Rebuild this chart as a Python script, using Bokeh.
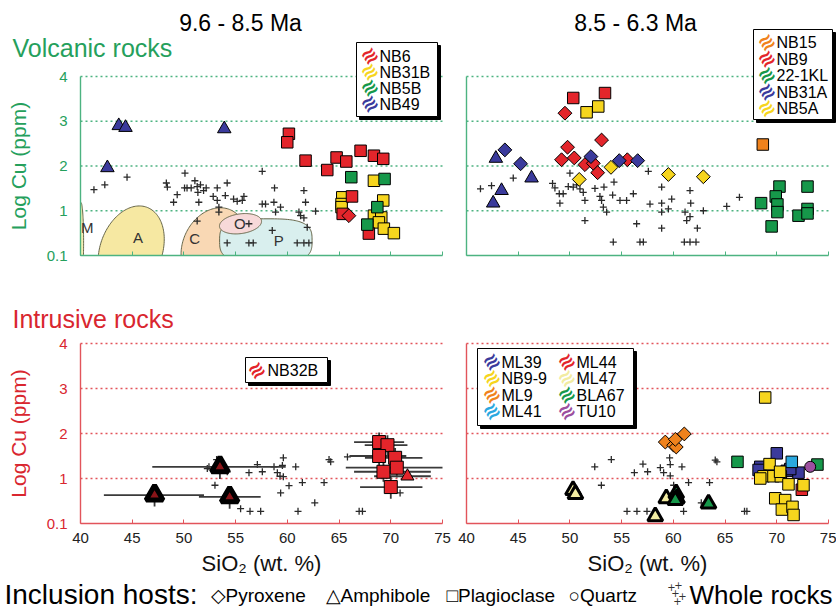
import numpy as np
from bokeh.plotting import figure
from bokeh.layouts import column, row
from bokeh.models import Range1d, FixedTicker, Label, BoxAnnotation, LinearAxis
from bokeh.core.properties import value
from bokeh.embed import file_html
from bokeh.resources import INLINE

# ---------------- data ----------------
X_TICKS = [40, 45, 50, 55, 60, 65, 70, 75]
Y_TICKS = [0, 1, 2, 3, 4]
Y_TICK_LABELS = {0: "0.1"}
Y_GRID = [1, 2, 3, 4]
X_LIMITS = (40, 75)
Y_LIMITS = (0, 4)

# --- volcanic, 9.6 - 8.5 Ma ---
TL_WR_X = [41.3, 42.35, 44.5, 48.3, 48.4, 50.1, 49.35, 50.06, 50.3, 50.7, 51.06, 51.28, 51.35, 51.6, 51.9, 52.15,
           49.0, 51.44, 52.83, 53.22, 54.18, 54.0, 54.8, 55.15, 55.64, 55.8, 53.22, 53.38, 53.38, 57.57, 58.76,
           57.57, 57.89, 58.7, 59.34, 58.86, 61.6, 61.76, 61.12, 61.28, 61.6, 62.73, 61.92, 51.28, 56.28, 54.18,
           56.28, 56.7, 60.95, 61.6, 62.08, 58.54]
TL_WR_Y = [1.47, 1.58, 1.75, 1.62, 1.53, 1.84, 1.36, 1.51, 1.51, 1.51, 1.67, 1.54, 1.41, 1.58, 1.45, 1.51,
           1.19, 1.19, 1.32, 1.51, 1.62, 1.34, 1.26, 1.21, 1.23, 1.32, 1.23, 1.08, 0.97, 1.88, 1.51,
           1.15, 1.15, 1.19, 1.08, 0.97, 1.45, 1.19, 0.97, 0.89, 0.84, 0.99, 0.63, 0.77, 0.71, 0.28,
           0.28, 0.28, 0.28, 0.28, 0.28, 0.56]
NB49_AMPH_X = [43.7, 44.35, 42.6, 53.9]
NB49_AMPH_Y = [2.90, 2.86, 1.96, 2.83]
NB6_PLAG_X = [60.15, 59.99, 61.76, 63.86, 64.76, 65.7, 67.08, 68.37, 69.27, 66.25, 65.35, 67.88]
NB6_PLAG_Y = [2.72, 2.53, 2.12, 1.91, 2.19, 2.10, 2.34, 2.23, 2.16, 1.32, 0.93, 0.49]
NB6_PYX_X = [65.95]
NB6_PYX_Y = [0.89]
NB31B_PLAG_X = [65.31, 65.24, 65.24, 68.37, 69.27, 68.37, 69.08, 68.85, 69.33, 70.3]
NB31B_PLAG_Y = [1.30, 1.15, 1.08, 1.67, 1.23, 0.89, 0.85, 0.74, 0.60, 0.50]
NB5B_PLAG_X = [66.18, 69.4, 68.7, 67.73]
NB5B_PLAG_Y = [1.75, 1.71, 1.08, 0.69]

# melt-inclusion fields (M, A, C, P, O)
REGION_NAMES = ["M", "A", "C", "P", "O"]
REGION_CX = [40.05, 44.9, 52.9, 57.92, 55.47]
REGION_CY = [0.30, 0.12, 0.20, 0.33, 0.71]
REGION_RX = [0.25, 3.0, 3.0, 4.47, 2.05]
REGION_RY = [0.88, 1.02, 0.90, 0.49, 0.22]
REGION_TILT = [0, -20, -25, 0, 8]
REGION_POWER = [2, 2, 2, 3.2, 2]
REGION_FILL = ["#f4f0b4", "#f6e8a2", "#f9d8b4", "#d9efee", "#f7d9d9"]
REGION_LABEL_X = [40.65, 45.55, 51.05, 59.18, 55.4]
REGION_LABEL_Y = [0.63, 0.41, 0.37, 0.33, 0.71]

# --- volcanic, 8.5 - 6.3 Ma ---
TR_WR_X = [41.35, 42.42, 44.52, 48.32, 48.55, 50.0, 48.97, 49.35, 49.84, 50.32, 50.65, 50.97, 51.29, 51.45, 51.45,
           49.03, 52.42, 52.9, 53.06, 53.23, 53.55, 53.29, 54.26, 54.13, 54.84, 55.48, 56.13, 56.45, 56.77, 54.19,
           57.58, 57.74, 58.87, 58.87, 58.87, 58.87, 59.52, 59.84, 61.61, 61.68, 61.13, 61.29, 61.61, 62.32, 62.9,
           61.06, 61.61, 62.19, 65.16, 66.39, 57.1]
TR_WR_Y = [1.49, 1.56, 1.73, 1.61, 1.51, 1.84, 1.38, 1.38, 1.54, 1.53, 1.58, 1.49, 1.41, 1.23, 0.78,
           1.17, 1.50, 1.32, 1.23, 1.08, 0.97, 1.53, 1.64, 1.35, 1.23, 1.23, 1.38, 0.71, 0.30, 0.30,
           1.88, 1.15, 1.53, 1.17, 0.97, 0.61, 1.04, 1.26, 1.45, 1.17, 0.97, 0.78, 0.87, 0.61, 1.00,
           0.30, 0.30, 0.30, 1.10, 1.30, 0.30]
NB31A_AMPH_X = [42.84, 43.39, 42.58, 46.29]
NB31A_AMPH_Y = [2.17, 1.45, 1.17, 1.73]
NB31A_PYX_X = [43.71, 45.23, 52.03, 54.77, 56.55]
NB31A_PYX_Y = [2.36, 2.05, 2.21, 2.12, 2.12]
NB9_PLAG_X = [50.32, 53.39]
NB9_PLAG_Y = [3.52, 3.63]
NB9_PYX_X = [49.52, 49.77, 49.19, 50.42, 53.06, 51.45, 52.26, 52.68, 55.55]
NB9_PYX_Y = [3.18, 2.42, 2.14, 2.18, 2.58, 2.03, 2.06, 1.85, 2.14]
NB5A_PLAG_X = [51.61, 52.74]
NB5A_PLAG_Y = [3.20, 3.33]
NB5A_PYX_X = [50.90, 53.97, 59.52, 62.90]
NB5A_PYX_Y = [1.70, 1.97, 1.81, 1.76]
NB15_PLAG_X = [68.65]
NB15_PLAG_Y = [2.48]
KL22_PLAG_X = [70.26, 72.97, 69.9, 68.48, 70.06, 70.06, 72.97, 72.10, 72.97, 69.5]
KL22_PLAG_Y = [1.54, 1.54, 1.32, 1.17, 1.14, 0.97, 1.04, 0.89, 0.94, 0.65]

# --- intrusive, 9.6 - 8.5 Ma ---
BL_WR_X = [52.26, 52.42, 53.16, 53.0, 54.19, 55.48, 56.39, 57.42, 57.10, 56.29, 57.58, 58.71, 59.03, 59.29, 59.61,
           59.61, 59.52, 59.35, 60.16, 60.81, 61.45, 61.03, 62.65, 63.55, 64.03, 64.19, 65.81, 66.94, 67.26, 70.9]
BL_WR_Y = [1.22, 1.26, 1.42, 0.85, 1.15, 0.33, 0.27, 0.27, 1.31, 1.13, 1.15, 1.26, 1.13, 1.05, 1.04,
           1.46, 1.29, 0.68, 0.84, 1.26, 0.91, 0.27, 0.46, 0.91, 1.42, 1.37, 1.48, 0.27, 0.27, 0.68]
NB32B_AMPH_X = [53.48, 47.16, 54.42]
NB32B_AMPH_Y = [1.26, 0.63, 0.59]
NB32B_AMPH_XLO = [46.94, 42.26, 51.45]
NB32B_AMPH_XHI = [59.84, 51.94, 57.42]
NB32B_AMPH_YLO = [0.99, 0.38, 0.33]
NB32B_AMPH_YHI = [1.50, 0.85, 0.80]
NB32B_PLAG_X = [68.87, 69.68, 68.87, 70.42, 69.29, 70.58, 70.0]
NB32B_PLAG_Y = [1.81, 1.74, 1.50, 1.46, 1.15, 1.24, 0.81]
NB32B_PLAG_XLO = [66.45, 67.48, 66.0, 67.5, 66.45, 65.65, 67.03]
NB32B_PLAG_XHI = [71.29, 71.61, 71.5, 73.06, 73.87, 75.0, 73.06]
NB32B_PLAG_YLO = [1.60, 1.52, 1.28, 1.24, 0.93, 1.02, 0.55]
NB32B_PLAG_YHI = [2.02, 1.96, 1.72, 1.68, 1.37, 1.46, 1.05]
NB32B_AMPH2_X = [71.61]
NB32B_AMPH2_Y = [1.05]
NB32B_AMPH2_XLO = [68.39]
NB32B_AMPH2_XHI = [73.87]

# --- intrusive, 8.5 - 6.3 Ma ---
BR_WR_X = [52.40, 54.0, 53.04, 57.06, 56.23, 57.51, 58.74, 59.06, 59.70, 59.64, 59.70, 60.83, 61.47, 60.03,
           60.99, 55.52, 56.48, 57.45, 62.70, 63.5, 64.05, 64.21, 66.88, 67.11]
BR_WR_Y = [1.26, 1.42, 0.85, 1.32, 1.13, 1.15, 1.24, 1.13, 1.31, 1.46, 1.06, 1.26, 0.91, 0.85,
           0.27, 0.27, 0.27, 0.27, 0.46, 0.91, 1.41, 1.37, 0.27, 0.27]
ML9_PYX_X = [59.22, 60.03, 60.28, 61.06, 60.19]
ML9_PYX_Y = [1.81, 1.74, 1.70, 1.99, 1.87]
ML44_PLAG_X = [72.42]
ML44_PLAG_Y = [0.75]
ML39_PLAG_X = [70.0, 68.4, 68.24, 70.97, 72.1, 71.3]
ML39_PLAG_Y = [1.56, 1.26, 1.19, 1.17, 1.13, 1.21]
ML41_PLAG_X = [71.45]
ML41_PLAG_Y = [1.37]
NB99_PLAG_X = [68.88, 69.3, 68.72, 69.68, 70.39, 71.13, 72.58, 69.85, 70.81, 70.49, 71.52, 71.62, 68.4, 70.32]
NB99_PLAG_Y = [2.80, 1.32, 1.05, 1.05, 1.05, 0.87, 0.85, 0.56, 0.52, 0.31, 0.37, 0.19, 1.0, 1.15]
BLA67_PLAG_X = [66.2, 73.93]
BLA67_PLAG_Y = [1.37, 1.31]
TU10_QTZ_X = [73.23]
TU10_QTZ_Y = [1.26]
ML47_AMPH_X = [50.3, 50.53, 58.25, 59.32]
ML47_AMPH_Y = [0.74, 0.65, 0.16, 0.56]
BLA67_AMPH_X = [60.28, 60.35, 60.19, 63.4]
BLA67_AMPH_Y = [0.67, 0.56, 0.52, 0.44]

# ---------------- styling ----------------
C_RED = "#e3252b"
C_YEL = "#f6d51e"
C_GRN = "#16984a"
C_BLU = "#3b3b9c"
C_ORA = "#f0821c"
C_LBL = "#2aa8df"
C_PUR = "#9c4f9f"
C_PAL = "#f2eca2"

GREEN_TXT = "#25a05c"
GREEN_LN = "#4db381"
RED_TXT = "#d9262f"
RED_LN = "#e2545b"
FONT = "Liberation Sans"
SYM_FONT = "DejaVu Sans"

PX_X = 362 / (X_LIMITS[1] - X_LIMITS[0])   # pixels per wt.% SiO2


def make_panel(g, txt_color, ln_color, x_labels, y_labels):
    fig_left, fig_top, w, h, px40, py0, ppy = g
    x0 = X_LIMITS[0] + (fig_left - px40) / PX_X
    x1 = X_LIMITS[0] + (fig_left + w - px40) / PX_X
    y1 = (py0 - fig_top) / ppy
    y0 = (py0 - fig_top - h) / ppy
    p = figure(width=w, height=h, x_range=Range1d(x0, x1), y_range=Range1d(y0, y1),
               min_border=0, min_border_left=0, min_border_right=0, min_border_top=0, min_border_bottom=0,
               x_axis_location=None, y_axis_location=None,
               toolbar_location=None, tools="", output_backend="svg")
    p.outline_line_color = None
    p.background_fill_color = "white"
    p.border_fill_color = "white"
    for gr in p.grid:
        gr.visible = False

    # dotted horizontal guide lines at 1..4, spanning the SiO2 axis
    p.segment(x0=[X_LIMITS[0]] * len(Y_GRID), y0=Y_GRID, x1=[X_LIMITS[1]] * len(Y_GRID), y1=Y_GRID,
              line_color=ln_color, line_dash="2 3", line_width=1.4)

    if x_labels:
        xa = LinearAxis(fixed_location=Y_LIMITS[0], bounds=X_LIMITS, ticker=FixedTicker(ticks=X_TICKS))
        xa.major_tick_line_color = ln_color
        xa.major_tick_in = 4
        xa.major_tick_out = 0
        xa.minor_tick_line_color = None
        xa.major_label_text_font = FONT
        xa.major_label_text_font_size = "15px"
        xa.major_label_text_color = "#222222"
        xa.major_label_standoff = 9
        xa.axis_label = "SiO\u2082 (wt. %)"
        xa.axis_label_text_font = FONT
        xa.axis_label_text_font_size = "22px"
        xa.axis_label_text_font_style = "normal"
        xa.axis_label_text_color = "#111111"
        xa.axis_label_standoff = 5
    else:
        xa = LinearAxis(fixed_location=Y_LIMITS[0], bounds=X_LIMITS,
                        ticker=FixedTicker(ticks=[], minor_ticks=X_TICKS))
        xa.major_tick_line_color = None
        xa.minor_tick_line_color = ln_color
        xa.minor_tick_in = 4
        xa.minor_tick_out = 0
    xa.axis_line_color = ln_color
    xa.axis_line_width = 1.4
    p.add_layout(xa, "below")

    if y_labels:
        ya = LinearAxis(fixed_location=X_LIMITS[0], bounds=Y_LIMITS, ticker=FixedTicker(ticks=Y_TICKS))
        ya.major_label_overrides = Y_TICK_LABELS
        ya.major_label_text_font = FONT
        ya.major_label_text_font_size = "15px"
        ya.major_label_text_color = txt_color
        ya.major_label_standoff = 7
        ya.axis_label = "Log Cu (ppm)"
        ya.axis_label_text_font = FONT
        ya.axis_label_text_font_size = "21px"
        ya.axis_label_text_font_style = "normal"
        ya.axis_label_text_color = txt_color
        ya.axis_label_standoff = 14
    else:
        ya = LinearAxis(fixed_location=X_LIMITS[0], bounds=Y_LIMITS, ticker=FixedTicker(ticks=[]))
    ya.axis_line_color = ln_color
    ya.axis_line_width = 1.4
    ya.major_tick_line_color = None
    ya.minor_tick_line_color = None
    p.add_layout(ya, "left")
    return p


def to_data(g, px, py):
    px40, py0, ppy = g[4], g[5], g[6]
    return X_LIMITS[0] + (px - px40) / PX_X, (py0 - py) / ppy


def add_text(p, g, px, py, text, size, color="black", align="left", font=FONT, style="normal", angle=0.0):
    x, y = to_data(g, px, py)
    p.add_layout(Label(x=x, y=y, text=text, text_font=font, text_font_size=size, text_color=color,
                       text_align=align, text_baseline="middle", text_font_style=style, angle=angle))


def add_legend(p, g, box, entries, size):
    l, t, r, b = box
    x0, y0 = to_data(g, l + 3, t + 3)
    x1, y1 = to_data(g, r + 3, b + 3)
    p.add_layout(BoxAnnotation(left=x0, right=x1, top=y0, bottom=y1, fill_color="black", fill_alpha=1,
                               line_color="black", line_alpha=1))
    x0, y0 = to_data(g, l, t)
    x1, y1 = to_data(g, r, b)
    p.add_layout(BoxAnnotation(left=x0, right=x1, top=y0, bottom=y1, fill_color="white", fill_alpha=1,
                               line_color="black", line_alpha=1, line_width=1))
    for sx, tx, cy, name, color in entries:
        add_text(p, g, sx, cy, "\u224b", "20px", color=color, align="center", font=SYM_FONT, style="bold",
                 angle=0.6)
        add_text(p, g, tx, cy + 0.5, name, size)


def crosses(p, xs, ys):
    p.scatter(xs, ys, marker="cross", size=7, line_color="#2a2a2a", line_width=1.3)


def squares(p, xs, ys, color, size=11.5):
    p.scatter(xs, ys, marker="square", size=size, fill_color=color, line_color="black", line_width=1)


def diamonds(p, xs, ys, color):
    p.scatter(xs, ys, marker="square", angle=np.pi / 4, size=9.8, fill_color=color, line_color="black",
              line_width=1)


def triangles(p, xs, ys, color, size=13.5, lw=1.0):
    p.scatter(xs, ys, marker="triangle", size=size, fill_color=color, line_color="black", line_width=lw)


def region_outline(cx, cy, rx, ry, tilt, power, ppy):
    t = np.linspace(0, 2 * np.pi, 160)
    c, s = np.cos(t), np.sin(t)
    u = np.sign(c) * np.abs(c) ** (2.0 / power) * rx * PX_X
    v = np.sign(s) * np.abs(s) ** (2.0 / power) * ry * ppy
    a = np.deg2rad(tilt)
    uu = u * np.cos(a) - v * np.sin(a)
    vv = u * np.sin(a) + v * np.cos(a)
    return list(cx + uu / PX_X), list(cy + vv / ppy)


# panel geometry: figure left, figure top, width, height, pixel of SiO2=40, pixel of y=0, pixels per y unit
G_TL = (0, 0, 454, 290, 80, 255, 44.75)
G_TR = (454, 0, 382, 290, 466, 255, 44.75)
G_BL = (0, 290, 454, 290, 80, 523, 45.0)
G_BR = (454, 290, 382, 290, 466, 523, 45.0)

tl = make_panel(G_TL, GREEN_TXT, GREEN_LN, False, True)
tr = make_panel(G_TR, GREEN_TXT, GREEN_LN, False, False)
bl = make_panel(G_BL, RED_TXT, RED_LN, True, True)
br = make_panel(G_BR, RED_TXT, RED_LN, True, False)

# top-left
rx_list, ry_list = [], []
for i in range(len(REGION_NAMES)):
    xs, ys = region_outline(REGION_CX[i], REGION_CY[i], REGION_RX[i], REGION_RY[i], REGION_TILT[i],
                            REGION_POWER[i], G_TL[6])
    xs = [max(v, X_LIMITS[0]) for v in xs]
    ys = [max(v, Y_LIMITS[0]) for v in ys]
    rx_list.append(xs)
    ry_list.append(ys)
tl.patches(rx_list, ry_list, fill_color=REGION_FILL, line_color="#66664a", line_width=1)
tl.text(x=REGION_LABEL_X, y=REGION_LABEL_Y, text=REGION_NAMES, text_font=value(FONT),
        text_font_size=value("15px"), text_color="#333333", text_align="center", text_baseline="middle")
crosses(tl, TL_WR_X, TL_WR_Y)
squares(tl, NB31B_PLAG_X, NB31B_PLAG_Y, C_YEL)
squares(tl, NB6_PLAG_X, NB6_PLAG_Y, C_RED)
diamonds(tl, NB6_PYX_X, NB6_PYX_Y, C_RED)
squares(tl, NB5B_PLAG_X, NB5B_PLAG_Y, C_GRN)
triangles(tl, NB49_AMPH_X, NB49_AMPH_Y, C_BLU)

# top-right
crosses(tr, TR_WR_X, TR_WR_Y)
triangles(tr, NB31A_AMPH_X, NB31A_AMPH_Y, C_BLU)
squares(tr, NB9_PLAG_X, NB9_PLAG_Y, C_RED)
diamonds(tr, NB9_PYX_X, NB9_PYX_Y, C_RED)
diamonds(tr, NB31A_PYX_X, NB31A_PYX_Y, C_BLU)
squares(tr, NB5A_PLAG_X, NB5A_PLAG_Y, C_YEL)
diamonds(tr, NB5A_PYX_X, NB5A_PYX_Y, C_YEL)
squares(tr, NB15_PLAG_X, NB15_PLAG_Y, C_ORA)
squares(tr, KL22_PLAG_X, KL22_PLAG_Y, C_GRN)

# bottom-left
crosses(bl, BL_WR_X, BL_WR_Y)
ERR = dict(line_color="#3a3a3a", line_width=1.8)
bl.segment(x0=NB32B_AMPH_XLO, y0=NB32B_AMPH_Y, x1=NB32B_AMPH_XHI, y1=NB32B_AMPH_Y, **ERR)
bl.segment(x0=NB32B_AMPH_X, y0=NB32B_AMPH_YLO, x1=NB32B_AMPH_X, y1=NB32B_AMPH_YHI, **ERR)
bl.segment(x0=NB32B_PLAG_XLO, y0=NB32B_PLAG_Y, x1=NB32B_PLAG_XHI, y1=NB32B_PLAG_Y, **ERR)
bl.segment(x0=NB32B_PLAG_X, y0=NB32B_PLAG_YLO, x1=NB32B_PLAG_X, y1=NB32B_PLAG_YHI, **ERR)
bl.segment(x0=NB32B_AMPH2_XLO, y0=NB32B_AMPH2_Y, x1=NB32B_AMPH2_XHI, y1=NB32B_AMPH2_Y, **ERR)
triangles(bl, NB32B_AMPH_X, NB32B_AMPH_Y, "#8a1418", size=17, lw=5)
squares(bl, NB32B_PLAG_X, NB32B_PLAG_Y, C_RED, size=13)
triangles(bl, NB32B_AMPH2_X, NB32B_AMPH2_Y, C_RED, size=13)

# bottom-right
crosses(br, BR_WR_X, BR_WR_Y)
triangles(br, ML47_AMPH_X, ML47_AMPH_Y, C_PAL, size=15, lw=3)
triangles(br, BLA67_AMPH_X, BLA67_AMPH_Y, C_GRN, size=15, lw=3)
diamonds(br, ML9_PYX_X, ML9_PYX_Y, C_ORA)
squares(br, ML44_PLAG_X, ML44_PLAG_Y, C_RED)
squares(br, ML39_PLAG_X, ML39_PLAG_Y, C_BLU)
squares(br, ML41_PLAG_X, ML41_PLAG_Y, C_LBL)
squares(br, NB99_PLAG_X, NB99_PLAG_Y, C_YEL)
squares(br, BLA67_PLAG_X, BLA67_PLAG_Y, C_GRN)
br.scatter(TU10_QTZ_X, TU10_QTZ_Y, marker="circle", size=11, fill_color=C_PUR, line_color="black", line_width=1)

# titles
add_text(tl, G_TL, 240, 22, "9.6 - 8.5 Ma", "23px", align="center")
add_text(tr, G_TR, 635, 22, "8.5 - 6.3 Ma", "23px", align="center")
add_text(tl, G_TL, 12, 47, "Volcanic rocks", "25px", color=GREEN_TXT)
add_text(bl, G_BL, 12, 318, "Intrusive rocks", "25px", color=RED_TXT)

# legends
add_legend(tl, G_TL, (356, 42, 437, 116),
           [(369, 379, 55 + 16 * i, n, c) for i, (n, c) in
            enumerate([("NB6", C_RED), ("NB31B", C_YEL), ("NB5B", C_GRN), ("NB49", C_BLU)])], "16px")
add_legend(tr, G_TR, (753, 29, 832, 119),
           [(766, 776, 41.5 + 16.5 * i, n, c) for i, (n, c) in
            enumerate([("NB15", C_ORA), ("NB9", C_RED), ("22-1KL", C_GRN), ("NB31A", C_BLU), ("NB5A", C_YEL)])],
           "16px")
add_legend(bl, G_BL, (245, 357, 327, 382), [(256, 267, 369.5, "NB32B", C_RED)], "16px")
col1 = [("ML39", C_BLU), ("NB9-9", C_YEL), ("ML9", C_ORA), ("ML41", C_LBL)]
col2 = [("ML44", C_RED), ("ML47", C_PAL), ("BLA67", C_GRN), ("TU10", C_PUR)]
entries = [(491, 501, 361 + 16.5 * i, n, c) for i, (n, c) in enumerate(col1)]
entries += [(566, 576, 361 + 16.5 * i, n, c) for i, (n, c) in enumerate(col2)]
add_legend(br, G_BR, (477, 348, 633, 425), entries, "16px")

# ---------------- footer ----------------
FOOT_H = 30
foot = figure(width=836, height=FOOT_H, x_range=Range1d(0, 836), y_range=Range1d(0, FOOT_H),
              x_axis_location=None, y_axis_location=None, min_border=0, toolbar_location=None, tools="",
              output_backend="svg")
foot.outline_line_color = None
for gr in foot.grid:
    gr.visible = False


def foot_text(x, y, text, size, align="left", font=FONT, color="black"):
    foot.add_layout(Label(x=x, y=y, text=text, text_font=font, text_font_size=size, text_align=align,
                          text_baseline="middle", text_color=color))


foot_text(4, 16, "Inclusion hosts:", "28px")
foot_text(210, 15, "\u25c7Pyroxene", "19px")
foot_text(325, 15, "\u25b3Amphibole", "19px")
foot_text(446, 15, "\u25a1Plagioclase", "19px")
foot_text(568, 15, "\u25cbQuartz", "19px")
for cx, cy in [(671, 24), (678, 26), (675, 18), (682, 15), (677, 10)]:
    foot_text(cx, cy, "+", "10px", align="center", font=SYM_FONT, color="#333333")
foot_text(832, 16, "Whole rocks", "26px", align="right")

layout = column(row(tl, tr), row(bl, br), foot)
open("out.html", "w").write(file_html(layout, INLINE))
